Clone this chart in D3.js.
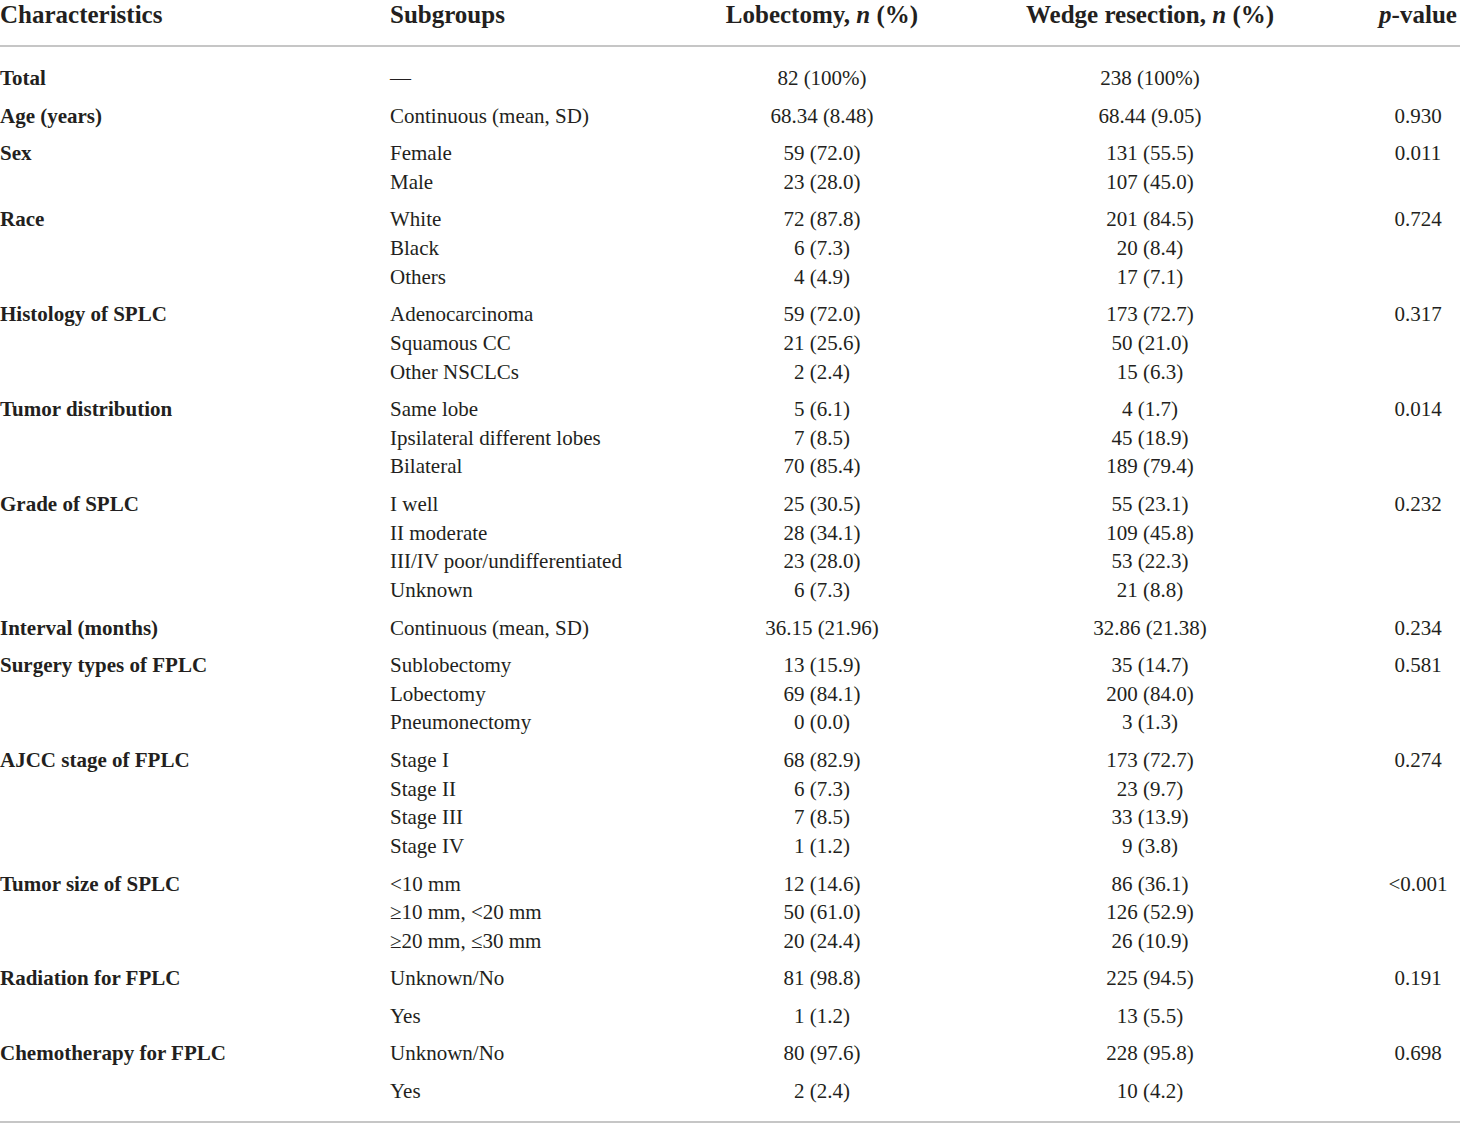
<!DOCTYPE html>
<html>
<head>
<meta charset="utf-8">
<script src="https://cdn.jsdelivr.net/npm/d3@7"></script>
<style>
  body { margin: 0; background: #fff; }
  svg { display: block; font-family: "Liberation Serif", "DejaVu Serif", serif; }
  .head { font-size: 25px; font-weight: bold; fill: #231f20; }
  .cell { font-size: 21px; fill: #231f20; }
  .cell.char { font-weight: bold; }
</style>
</head>
<body>
<div id="chart"></div>
<script>
// table content, one entry per characteristic
var characteristics = ["Total", "Age (years)", "Sex", "Race", "Histology of SPLC", "Tumor distribution",
  "Grade of SPLC", "Interval (months)", "Surgery types of FPLC", "AJCC stage of FPLC",
  "Tumor size of SPLC", "Radiation for FPLC", "Chemotherapy for FPLC"];

var subgroups = [
  ["\u2014"],
  ["Continuous (mean, SD)"],
  ["Female", "Male"],
  ["White", "Black", "Others"],
  ["Adenocarcinoma", "Squamous CC", "Other NSCLCs"],
  ["Same lobe", "Ipsilateral different lobes", "Bilateral"],
  ["I well", "II moderate", "III/IV poor/undifferentiated", "Unknown"],
  ["Continuous (mean, SD)"],
  ["Sublobectomy", "Lobectomy", "Pneumonectomy"],
  ["Stage I", "Stage II", "Stage III", "Stage IV"],
  ["<10 mm", "\u226510 mm, <20 mm", "\u226520 mm, \u226430 mm"],
  ["Unknown/No", "Yes"],
  ["Unknown/No", "Yes"]
];

var lobectomy = [
  ["82 (100%)"],
  ["68.34 (8.48)"],
  ["59 (72.0)", "23 (28.0)"],
  ["72 (87.8)", "6 (7.3)", "4 (4.9)"],
  ["59 (72.0)", "21 (25.6)", "2 (2.4)"],
  ["5 (6.1)", "7 (8.5)", "70 (85.4)"],
  ["25 (30.5)", "28 (34.1)", "23 (28.0)", "6 (7.3)"],
  ["36.15 (21.96)"],
  ["13 (15.9)", "69 (84.1)", "0 (0.0)"],
  ["68 (82.9)", "6 (7.3)", "7 (8.5)", "1 (1.2)"],
  ["12 (14.6)", "50 (61.0)", "20 (24.4)"],
  ["81 (98.8)", "1 (1.2)"],
  ["80 (97.6)", "2 (2.4)"]
];

var wedge = [
  ["238 (100%)"],
  ["68.44 (9.05)"],
  ["131 (55.5)", "107 (45.0)"],
  ["201 (84.5)", "20 (8.4)", "17 (7.1)"],
  ["173 (72.7)", "50 (21.0)", "15 (6.3)"],
  ["4 (1.7)", "45 (18.9)", "189 (79.4)"],
  ["55 (23.1)", "109 (45.8)", "53 (22.3)", "21 (8.8)"],
  ["32.86 (21.38)"],
  ["35 (14.7)", "200 (84.0)", "3 (1.3)"],
  ["173 (72.7)", "23 (9.7)", "33 (13.9)", "9 (3.8)"],
  ["86 (36.1)", "126 (52.9)", "26 (10.9)"],
  ["225 (94.5)", "13 (5.5)"],
  ["228 (95.8)", "10 (4.2)"]
];

var pValues = ["", "0.930", "0.011", "0.724", "0.317", "0.014", "0.232", "0.234",
  "0.581", "0.274", "<0.001", "0.191", "0.698"];

// groups whose subrows are spread out like separate rows
var looseGroups = ["Radiation for FPLC", "Chemotherapy for FPLC"];

var columns = ["char", "sub", "lob", "wedge", "p"];

var W = 1460, H = 1125;
var firstBaseline = 85, rowStep = 28.7, groupStep = 37.5;

var svg = d3.select('#chart').append('svg')
  .attr('width', W)
  .attr('height', H);

var x = d3.scaleOrdinal()
  .domain(columns)
  .range([0, 390, 822, 1150, 1418]);
var anchor = d3.scaleOrdinal()
  .domain(columns)
  .range(["start", "start", "middle", "middle", "middle"]);

// flatten into rows, keeping a running vertical offset
var rows = [];
var offset = 0;
characteristics.forEach(function(c, gi) {
  subgroups[gi].forEach(function(s, si) {
    if (rows.length > 0) {
      offset += (si === 0 || looseGroups.indexOf(c) >= 0) ? groupStep : rowStep;
    }
    rows.push({
      char: si === 0 ? c : "",
      sub: s,
      lob: lobectomy[gi][si],
      wedge: wedge[gi][si],
      p: si === 0 ? pValues[gi] : "",
      off: offset
    });
  });
});

var y = d3.scaleLinear()
  .domain([0, offset])
  .range([firstBaseline, firstBaseline + offset]);

// header
var headers = [
  {col: "char", parts: [{t: "Characteristics"}]},
  {col: "sub", parts: [{t: "Subgroups"}]},
  {col: "lob", parts: [{t: "Lobectomy, "}, {t: "n", i: true}, {t: " (%)"}]},
  {col: "wedge", parts: [{t: "Wedge resection, "}, {t: "n", i: true}, {t: " (%)"}]},
  {col: "p", parts: [{t: "p", i: true}, {t: "-value"}]}
];

var head = svg.selectAll('.head')
  .data(headers)
  .enter()
  .append('text')
  .attr('class', 'head')
  .attr('x', function(d) { return x(d.col); })
  .attr('y', 22.5)
  .attr('text-anchor', function(d) { return anchor(d.col); });

head.selectAll('tspan')
  .data(function(d) { return d.parts; })
  .enter()
  .append('tspan')
  .style('font-style', function(d) { return d.i ? 'italic' : null; })
  .text(function(d) { return d.t; });

// rules
svg.selectAll('.rule')
  .data([46, 1122])
  .enter()
  .append('rect')
  .attr('class', 'rule')
  .attr('x', 0)
  .attr('y', function(d) { return d - 1; })
  .attr('width', W)
  .attr('height', 2)
  .attr('fill', '#c6c6c6');

// body
var rowG = svg.selectAll('.row')
  .data(rows)
  .enter()
  .append('g')
  .attr('class', 'row')
  .attr('transform', function(d) { return 'translate(0,' + y(d.off) + ')'; });

rowG.selectAll('text')
  .data(function(d) {
    return columns.map(function(c) { return {col: c, text: d[c]}; })
      .filter(function(e) { return e.text !== ""; });
  })
  .enter()
  .append('text')
  .attr('class', function(d) { return 'cell ' + d.col; })
  .attr('x', function(d) { return x(d.col); })
  .attr('text-anchor', function(d) { return anchor(d.col); })
  .text(function(d) { return d.text; });
</script>
</body>
</html>
